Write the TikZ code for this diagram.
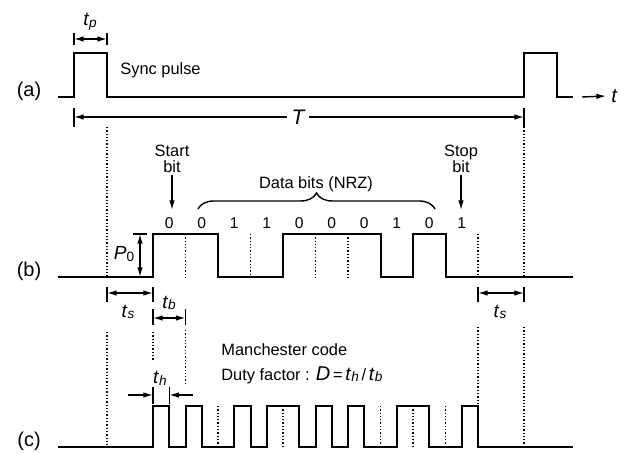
\documentclass[tikz,border=0pt]{standalone}
\usepackage{fontspec}
\setmainfont{Liberation Sans}
\usetikzlibrary{arrows.meta,decorations.pathreplacing}

\newcommand{\tsub}[2]{{\fontsize{9.5}{9}\selectfont\textit{#1}\raisebox{-0.9pt}{\fontsize{6.8}{7}\selectfont\textit{#2}}}}

\begin{document}
\begin{tikzpicture}[x=0.5pt, y=-0.5pt,
  wave/.style={line width=1pt, line join=miter},
  guide/.style={densely dotted, line width=0.65pt},
  dim/.style={line width=0.7pt, {Latex[length=4.8pt,width=2.8pt]}-{Latex[length=4.8pt,width=2.8pt]}},
  ptr/.style={line width=0.7pt, -{Latex[length=4.8pt,width=2.8pt]}},
  tick/.style={line width=0.7pt},
  lbl/.style={font=\fontsize{8.2}{8}\selectfont, inner sep=1pt},
  rowlbl/.style={font=\fontsize{10}{10}\selectfont, inner sep=0pt},
  bitlbl/.style={font=\fontsize{7.8}{8}\selectfont, inner sep=0pt}
]
\useasboundingbox (0,0) rectangle (627,454);

% (a) sync pulses
\node[rowlbl] (rowa) at (29,91) {(a)};
\draw[wave] (58,97) -- (74,97) -- (74,53) -- (107,53) -- (107,97) -- (524,97)
  -- (524,53) -- (557,53) -- (557,97) -- (573,97);
\node[lbl, anchor=west] (sync) at (118,70) {Sync pulse};

\draw[tick] (74,33) -- (74,45) (107,33) -- (107,45);
\coordinate (tpL) at (74,39);
\coordinate (tpR) at (107,39);
\draw[dim] (tpL) -- (tpR);
\node[lbl] (tp) at (90,22) {\tsub{t}{p}};

\coordinate (tA) at (582,97);
\node[lbl, font=\fontsize{10}{10}\selectfont\itshape, anchor=west, inner sep=2.5pt] (tlab) at (606,96) {t};
\draw[ptr] (tA) -- (tlab.west);

\draw[tick] (74,108) -- (74,127) (524,108) -- (524,127);
\coordinate (TL) at (74,117);
\coordinate (TR) at (524,117);
\node[lbl, font=\fontsize{10.5}{10}\selectfont\itshape, inner sep=2pt] (Tlab) at (298,117) {T};
\draw[ptr] (Tlab) -- (TL);
\draw[ptr] (Tlab) -- (TR);

\draw[guide] (107,127) -- (107,277) (107,332) -- (107,447);
\draw[guide] (524,127) -- (524,277) (524,327) -- (524,447);

% (b) NRZ frame
\node[rowlbl] (rowb) at (29,271) {(b)};
\draw[wave] (58,277) -- (153,277) -- (153,234) -- (218,234) -- (218,277) -- (283,277)
  -- (283,234) -- (380.5,234) -- (380.5,277) -- (413,277) -- (413,234) -- (445.5,234)
  -- (445.5,277) -- (573,277);
\foreach \x in {185.5,250.5,315.5,348,478}
  \draw[guide] (\x,234) -- (\x,277);
\foreach \v [count=\i from 0] in {0,0,1,1,0,0,0,1,0,1}
  \node[bitlbl] (bit\i) at (169.25+32.5*\i,223) {\v};

\node[lbl, align=center] (start) at (172,159) {Start\\bit};
\coordinate (startTip) at (172,210);
\draw[ptr] (start) -- (startTip);
\node[lbl, align=center] (stop) at (461,159) {Stop\\bit};
\coordinate (stopTip) at (461,210);
\draw[ptr] (stop) -- (stopTip);

\draw[decorate, decoration={brace, amplitude=8pt}, line width=0.7pt] (198,209) -- (435,209);
\node[lbl] (data) at (316,184) {Data bits (NRZ)};

\draw[tick] (133,234) -- (147,234);
\coordinate (p0T) at (140,234);
\coordinate (p0B) at (140,277);
\draw[dim] (p0T) -- (p0B);
\node[lbl] (p0) at (124,254) {\fontsize{9.5}{9}\selectfont\textit{P}\raisebox{-0.9pt}{\fontsize{6.8}{7}\selectfont 0}};

\draw[tick] (107,287) -- (107,302) (153,287) -- (153,302);
\coordinate (tsL1) at (107,293);
\coordinate (tsL2) at (153,293);
\draw[dim] (tsL1) -- (tsL2);
\node[lbl] (tsa) at (128,312) {\tsub{t}{s}};

\draw[tick] (153,309) -- (153,325) (185.5,309) -- (185.5,325);
\coordinate (tb1) at (153,318);
\coordinate (tb2) at (185.5,318);
\draw[dim] (tb1) -- (tb2);
\node[lbl] (tb) at (169,303) {\tsub{t}{b}};

\draw[tick] (478,287) -- (478,302) (524,287) -- (524,302);
\coordinate (tsR1) at (478,293);
\coordinate (tsR2) at (524,293);
\draw[dim] (tsR1) -- (tsR2);
\node[lbl] (tsb) at (500,312) {\tsub{t}{s}};

% (c) Manchester frame
\node[rowlbl] (rowc) at (29,441) {(c)};
\draw[wave] (58,447) -- (153,447) -- (153,406) -- (169.25,406) -- (169.25,447)
  -- (185.5,447) -- (185.5,406) -- (201.75,406) -- (201.75,447) -- (234.25,447)
  -- (234.25,406) -- (250.5,406) -- (250.5,447) -- (266.75,447) -- (266.75,406)
  -- (299.25,406) -- (299.25,447) -- (315.5,447) -- (315.5,406) -- (331.75,406)
  -- (331.75,447) -- (348,447) -- (348,406) -- (364.25,406) -- (364.25,447)
  -- (396.75,447) -- (396.75,406) -- (429.25,406) -- (429.25,447) -- (461.75,447)
  -- (461.75,406) -- (478,406) -- (478,447) -- (573,447);
\foreach \x in {218,283,380.5,413,445.5}
  \draw[guide] (\x,406) -- (\x,447);
\draw[guide] (153,332) -- (153,361);
\draw[guide] (185.5,330) -- (185.5,385);
\draw[guide] (478,327) -- (478,406);

\draw[tick] (153,387) -- (153,404) (169.25,387) -- (169.25,404);
\coordinate (thL0) at (128,395);
\coordinate (thL) at (153,395);
\coordinate (thR0) at (193,395);
\coordinate (thR) at (169.25,395);
\draw[ptr] (thL0) -- (thL);
\draw[ptr] (thR0) -- (thR);
\node[lbl] (th) at (160,378) {\tsub{t}{h}};

\node[lbl, anchor=base west] (manch) at (219,356) {Manchester code};
\node[lbl, anchor=base west] (duty) at (219,380)
  {Duty factor : {\fontsize{10}{9}\selectfont\textit{D}}\,=\,\tsub{t}{h}\,/\,\tsub{t}{b}};

\end{tikzpicture}
\end{document}
